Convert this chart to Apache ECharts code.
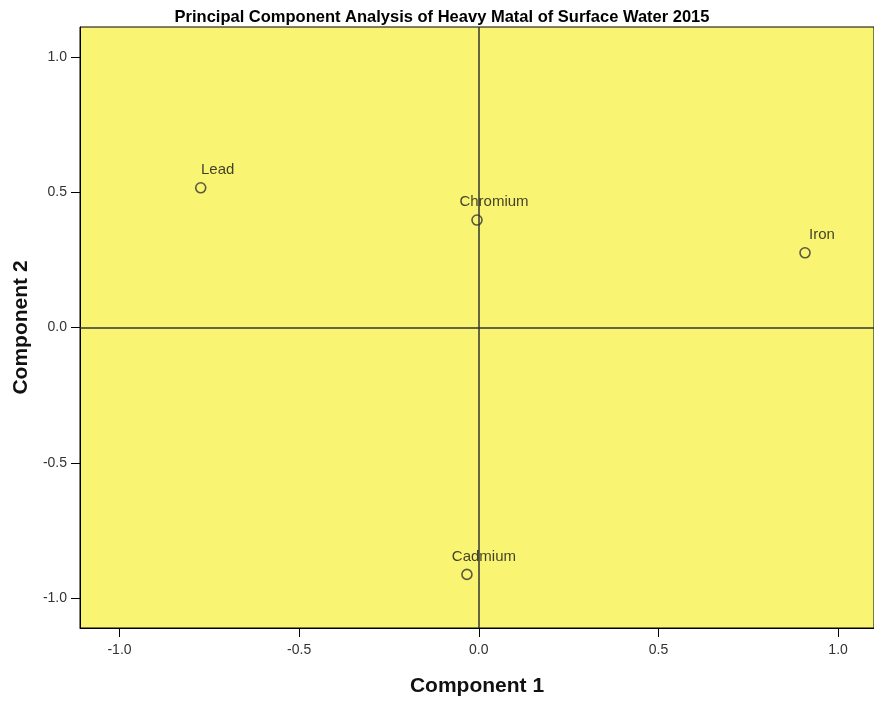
<!DOCTYPE html>
<html><head><meta charset="utf-8">
<script src="https://cdn.jsdelivr.net/npm/echarts@6/dist/echarts.min.js"></script>
<style>html,body{margin:0;padding:0;background:#fff}#c{width:874px;height:702px}</style>
</head><body><div id="c"></div>
<script>
const names = ['Lead', 'Chromium', 'Iron', 'Cadmium'];
const comp1 = [-0.774, -0.005, 0.908, -0.033];
const comp2 = [0.516, 0.397, 0.276, -0.912];
const tickValues = [-1.0, -0.5, 0.0, 0.5, 1.0];

const chart = echarts.init(document.getElementById('c'));
const data = names.map((n, i) => ({ name: n, value: [comp1[i], comp2[i]] }));
const fam = 'Arial, "Liberation Sans", sans-serif';
function axisCfg(extra, margin) {
  return Object.assign({
    type: 'value',
    splitLine: { show: false },
    axisLine: { show: true, onZero: false, lineStyle: { color: '#000', width: 1 } },
    axisTick: { show: true, length: 9, customValues: tickValues, lineStyle: { color: '#000' } },
    axisLabel: { color: '#333', fontSize: 14, fontFamily: fam, margin: margin,
      customValues: tickValues,
      formatter: v => (Math.abs(v) < 1e-9 ? '0.0' : v.toFixed(1)) },
    nameLocation: 'middle',
    nameTextStyle: { fontSize: 21, fontWeight: 'bold', color: '#111', fontFamily: fam }
  }, extra);
}
chart.setOption({
  animation: false,
  title: {
    text: 'Principal Component Analysis of Heavy Matal of Surface Water 2015',
    left: 437, top: 4, textAlign: 'center',
    textStyle: { fontSize: 16.5, fontWeight: 'bold', color: '#000', fontFamily: '"Liberation Sans Narrow", "Arial Narrow", Arial, sans-serif' }
  },
  grid: { left: 80, right: -4, top: 27, bottom: 69, show: true, backgroundColor: '#F9F573', borderColor: '#000', borderWidth: 1 },
  xAxis: axisCfg({ min: -1.11, max: 1.1, name: 'Component 1', nameGap: 48 }, 15),
  yAxis: axisCfg({ min: -1.11, max: 1.11, name: 'Component 2', nameGap: 47 }, 13),
  series: [{
    type: 'scatter',
    data: data,
    symbol: 'circle', symbolSize: 10,
    itemStyle: { color: 'rgba(0,0,0,0)', borderColor: '#333', borderWidth: 1.6 },
    label: { show: true, position: 'inside', offset: [17, -18], formatter: '{b}', color: '#111', fontSize: 15, fontFamily: fam },
    markLine: {
      silent: true, symbol: 'none', label: { show: false },
      lineStyle: { color: '#333', width: 1.5, type: 'solid' },
      data: [{ xAxis: 0 }, { yAxis: 0 }]
    },
    z: 5
  }]
});
</script></body></html>
